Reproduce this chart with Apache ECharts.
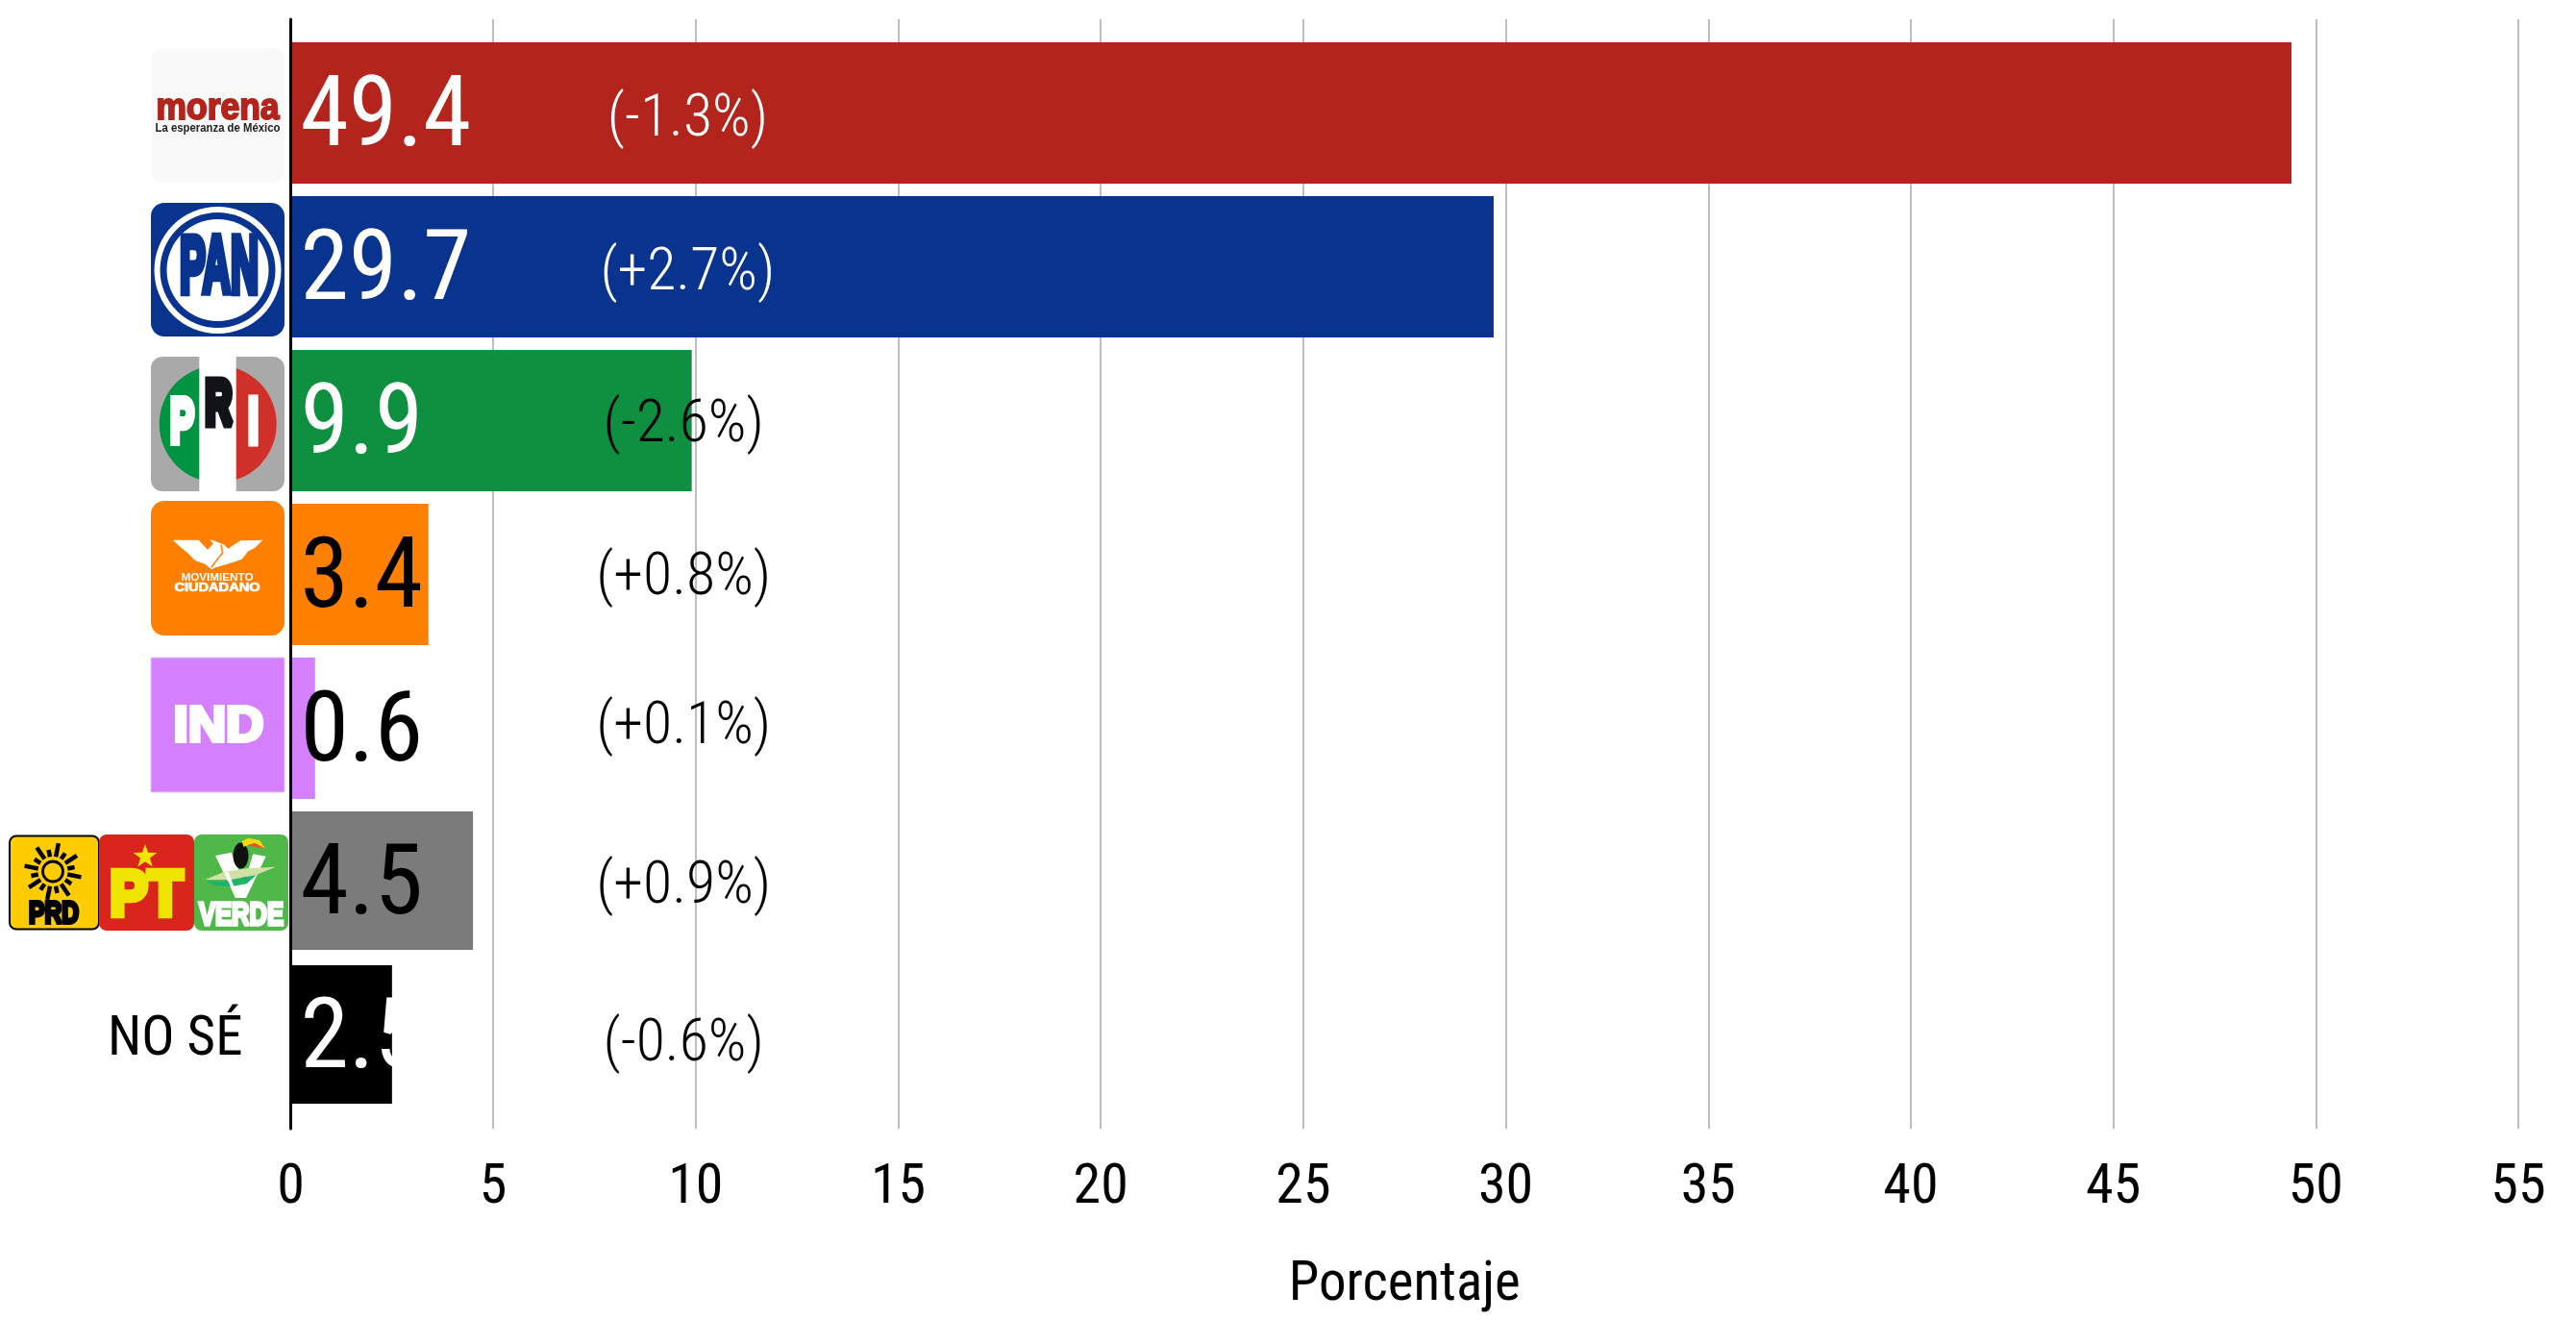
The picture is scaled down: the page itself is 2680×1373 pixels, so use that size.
<!DOCTYPE html>
<html>
<head>
<meta charset="utf-8">
<style>html,body{margin:0;padding:0;background:#fff}#c{width:2680px;height:1373px}</style>
<script src="https://cdn.jsdelivr.net/npm/echarts@6/dist/echarts.min.js"></script>
</head>
<body>
<div id="c"></div>
<script>
const categories = ['MORENA', 'PAN', 'PRI', 'MC', 'IND', 'PRD-PT-VERDE', 'NO SÉ'];
const values = [49.4, 29.7, 9.9, 3.4, 0.6, 4.5, 2.5];
const changeLabels = ['(-1.3%)', '(+2.7%)', '(-2.6%)', '(+0.8%)', '(+0.1%)', '(+0.9%)', '(-0.6%)'];
const changeX = [9.8, 9.8, 9.7, 9.7, 9.7, 9.7, 9.7];
const changeY = [1.049, 2.053, 3.036, 4.028, 4.998, 6.028, 7.057];
const barColors = ['#B2241C', '#08338F', '#0F9040', '#FF8000', '#D580FF', '#7B7B7B', '#000000'];
const valueColors = ['#fff', '#fff', '#fff', '#000', '#000', '#000', '#fff'];
const changeColors = ['#fff', '#fff', '#000', '#000', '#000', '#000', '#000'];
const axisMin = 0, axisMax = 55, axisStep = 5;
const axisTitle = 'Porcentaje';
const NARROW = '"Liberation Sans Narrow","Roboto Condensed","Liberation Sans",sans-serif';

const ctx = document.createElement('canvas').getContext('2d');
function fit(text, cx, cy, w, capH, fill, heavy) {
  const font = 'bold 100px "Liberation Sans"';
  ctx.font = font;
  const style = { text: text, font: font, fill: fill, align: 'center', verticalAlign: 'middle' };
  if (heavy) { style.stroke = fill; style.lineWidth = heavy; }
  return { type: 'text', x: cx, y: cy, scaleX: w / ctx.measureText(text).width, scaleY: capH / 71.6, silent: true, style: style };
}
function box(x, y, w, h, r, fill, extra) {
  return { type: 'rect', silent: true, shape: { x: x, y: y, width: w, height: h, r: r }, style: Object.assign({ fill: fill }, extra || {}) };
}
function poly(points, fill) { return { type: 'polygon', silent: true, shape: { points: points }, style: { fill: fill } }; }
function z3(pts, ox, oy) { return pts.map(p => [ox + p[0] / 3, oy + p[1] / 3]); }
function star(cx, cy, R, fill) {
  const pts = [];
  for (let i = 0; i < 10; i++) {
    const r = i % 2 ? R * 0.4 : R, a = -Math.PI / 2 + i * Math.PI / 5;
    pts.push([cx + r * Math.cos(a), cy + r * Math.sin(a)]);
  }
  return poly(pts, fill);
}
function sunRays(cx, cy) {
  const out = [];
  for (let i = 0; i < 16; i++) {
    const a = i * Math.PI / 8 + Math.PI / 16;
    const r0 = 15.5, r2 = (i % 2 === 0) ? 30 : 23;
    out.push({ type: 'line', silent: true, shape: { x1: cx + r0 * Math.cos(a), y1: cy + r0 * Math.sin(a), x2: cx + r2 * Math.cos(a), y2: cy + r2 * Math.sin(a) },
      style: { stroke: '#000', lineWidth: 4.5 } });
  }
  return out;
}

const logos = [
  // morena
  box(157, 50, 139, 140, 12, '#F9F9F9'),
  fit('morena', 226.5, 113, 128, 28, '#B2241C', 5),
  fit('La esperanza de México', 226.5, 133, 130, 9.5, '#222'),
  // PAN
  box(157, 211, 139, 139, 14, '#08338F'),
  { type: 'circle', silent: true, shape: { cx: 226.5, cy: 281, r: 66 }, style: { fill: '#fff' } },
  { type: 'circle', silent: true, shape: { cx: 226.5, cy: 281, r: 60 }, style: { fill: '#08338F' } },
  { type: 'circle', silent: true, shape: { cx: 226.5, cy: 281, r: 53 }, style: { fill: '#fff' } },
  fit('PAN', 228, 281, 82, 60, '#08338F', 10),
  // PRI
  box(157, 371, 139, 140, 12, '#A9A9A9'),
  { type: 'sector', silent: true, shape: { cx: 226.7, cy: 441, r: 61, r0: 0, startAngle: Math.PI / 2, endAngle: Math.PI * 3 / 2 }, style: { fill: '#009442' } },
  { type: 'sector', silent: true, shape: { cx: 226.7, cy: 441, r: 61, r0: 0, startAngle: -Math.PI / 2, endAngle: Math.PI / 2 }, style: { fill: '#CF3029' } },
  box(207.3, 371, 38.4, 140, 0, '#fff'),
  fit('P', 189.5, 441.5, 25, 47, '#fff', 12),
  fit('R', 227.5, 422.5, 28, 47, '#111316', 14),
  fit('I', 263.5, 441.5, 10, 47, '#fff', 14),
  // Movimiento Ciudadano
  box(157, 521, 139, 140, 14, '#FF8000'),
  poly(z3([[90, 140], [170, 140], [198, 170], [215, 152], [205, 138], [225, 145], [250, 155], [262, 167], [300, 142], [370, 140], [345, 165], [325, 175], [305, 200], [260, 215], [225, 225], [210, 232], [190, 215], [160, 205], [135, 180], [110, 160]], 150, 515), '#fff'),
  { type: 'polyline', silent: true, shape: { points: z3([[240, 155], [245, 180], [225, 205], [210, 225]], 150, 515) }, style: { fill: 'none', stroke: '#FF8000', lineWidth: 1.5 } },
  fit('MOVIMIENTO', 226, 600.7, 75, 7.5, '#fff'),
  fit('CIUDADANO', 226, 612, 89, 8.5, '#fff', 6),
  // Independiente
  box(157, 684, 139, 140, 0, '#D580FF', { stroke: '#E6C4F7', lineWidth: 1 }),
  fit('IND', 227.5, 757, 94, 37, '#fff', 8),
  // PRD
  box(10, 869.5, 93, 97, 7, '#FFCC00', { stroke: '#000', lineWidth: 2 }),
  ...sunRays(55, 906.5),
  { type: 'circle', silent: true, shape: { cx: 55, cy: 906.5, r: 10.5 }, style: { fill: 'none', stroke: '#000', lineWidth: 2.8 } },
  fit('PRD', 56, 951, 52, 23, '#000', 12),
  // PT
  box(103, 868, 99, 100, 8, '#DA251D'),
  star(151, 891, 13, '#F0E500'),
  fit('PT', 152, 934, 76, 48, '#F0E500', 10),
  // VERDE
  box(202, 868, 98, 100, 8, '#50B848'),
  poly(z3([[672, 90], [722, 80], [762, 175], [790, 85], [830, 92], [768, 222], [735, 222]], 0, 860), '#fff'),
  { type: 'ellipse', silent: true, shape: { cx: 250.5, cy: 890, rx: 8, ry: 13.5 }, style: { fill: '#111' } },
  poly(z3([[755, 45], [775, 35], [810, 42], [828, 68], [790, 55], [760, 62]], 0, 860), '#F5D90A'),
  poly(z3([[770, 58], [795, 50], [828, 68]], 0, 860), '#E4512B'),
  poly(z3([[640, 165], [700, 140], [770, 130], [860, 125], [800, 150], [720, 165]], 0, 860), '#CFE2A3'),
  poly(z3([[640, 170], [700, 170], [720, 165], [800, 150], [770, 178], [720, 187], [670, 183]], 0, 860), '#1DB36A'),
  poly(z3([[712, 140], [742, 215], [768, 222], [735, 222], [700, 142]], 0, 860), '#fff'),
  fit('VERDE', 251, 952.5, 88, 24, '#fff', 10)
];

function barRows(keep) {
  return values.map((v, i) => keep(i) ? {
    value: v,
    itemStyle: { color: barColors[i] },
    label: { color: valueColors[i] }
  } : null);
}
const changeData = changeLabels.map((t, i) => ({
  value: [changeX[i], changeY[i]],
  name: t,
  label: { color: changeColors[i] }
}));
const valueLabel = { show: true, position: 'insideLeft', distance: 10, offset: [0, 8], fontSize: 102, fontFamily: NARROW,
  formatter: p => p.value.toFixed(1) };

const chart = echarts.init(document.getElementById('c'), null, { renderer: 'canvas' });
chart.setOption({
  animation: false,
  backgroundColor: '#fff',
  textStyle: { fontFamily: NARROW },
  grid: [
    { left: 302.5, right: 60, top: 20, height: 1154 },
    { left: 302.5, right: 60, top: 37.5, height: 1120 }
  ],
  xAxis: [
    { gridIndex: 0, type: 'value', min: axisMin, max: axisMax, interval: axisStep,
      axisLine: { show: false }, axisTick: { show: false },
      splitLine: { show: true, lineStyle: { color: '#BEBEBE', width: 2 } },
      axisLabel: { color: '#000', fontSize: 58, fontFamily: NARROW, margin: 33 },
      name: axisTitle, nameLocation: 'middle', nameGap: 135,
      nameTextStyle: { color: '#000', fontSize: 57, fontFamily: NARROW } },
    { gridIndex: 1, type: 'value', min: axisMin, max: axisMax, interval: axisStep, show: false }
  ],
  yAxis: [
    { gridIndex: 0, type: 'value', min: 0.4, max: 7.6, inverse: true, z: 5,
      axisLine: { show: true, onZero: false, lineStyle: { color: '#000', width: 3 } },
      axisTick: { show: false }, axisLabel: { show: false }, splitLine: { show: false } },
    { gridIndex: 1, type: 'category', data: categories, inverse: true,
      axisLine: { show: false }, axisTick: { show: false }, splitLine: { show: false },
      axisLabel: { color: '#000', fontSize: 57, fontFamily: NARROW, margin: 50,
        rich: { a: { fontSize: 57, fontFamily: NARROW, color: '#000', padding: [10, 0, 0, 0] } },
        formatter: v => v === 'NO SÉ' ? '{a|' + v + '}' : '' } }
  ],
  series: [
    { type: 'bar', xAxisIndex: 1, yAxisIndex: 1, data: barRows(i => i >= 5), barWidth: 144, barGap: '-100%', z: 2, label: valueLabel },
    { type: 'bar', xAxisIndex: 1, yAxisIndex: 1, data: barRows(i => i < 5), barWidth: 147, barGap: '-100%', z: 2, label: valueLabel },
    { type: 'scatter', xAxisIndex: 0, yAxisIndex: 0, data: changeData, symbolSize: 1, z: 3,
      itemStyle: { color: 'transparent', opacity: 1 },
      label: { show: true, position: 'inside', opacity: 1, fontSize: 62, fontWeight: 300, fontFamily: NARROW, offset: [0, 1], formatter: p => p.name } }
  ],
  graphic: { elements: logos.map(e => Object.assign({ z: 10 }, e)) }
});
</script>
</body>
</html>
